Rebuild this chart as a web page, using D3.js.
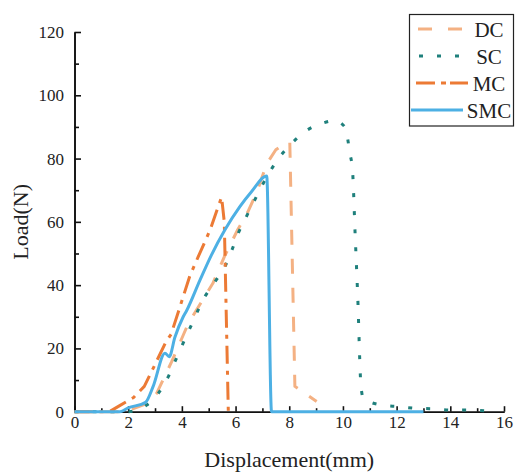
<!DOCTYPE html>
<html>
<head>
<meta charset="utf-8">
<script src="https://cdn.jsdelivr.net/npm/d3@7"></script>
<style>
  body { margin: 0; background: #fff; }
  svg { display: block; font-family: "Liberation Serif", "Times New Roman", serif; }
  .axis path, .axis line { stroke: #111; stroke-width: 1.6; }
  .axis text { fill: #222; font-size: 17px; font-family: "Liberation Serif", "Times New Roman", serif; }
</style>
</head>
<body>
<div id="chart"></div>
<script>
// series (displacement mm / load N)
const seriesNames = ["DC", "SC", "MC", "SMC"]

const dcX = [0, 1.9, 2.69, 3.06, 3.62, 4.24, 4.75, 5.15, 5.6, 6.08, 6.45, 6.8, 7.16, 7.5, 7.85, 8.02, 8.21, 9.02]
const dcY = [0, 0, 2.6, 5.8, 15.8, 27.9, 35, 40.5, 49.3, 57.5, 63, 69.5, 78.3, 82.8, 84.8, 85.3, 8, 3.2]

const scX = [0, 2.0, 2.69, 3.12, 3.49, 3.74, 4.3, 4.86, 5.23, 5.6, 5.85, 6.1, 6.37, 6.66, 7.28, 7.65, 8.09, 8.58,
  9.21, 9.7, 10.07, 10.26, 10.36, 10.45, 10.55, 10.67, 10.76, 11.44, 12.06, 12.68, 13.35, 14.05, 14.65, 15.41]
const scY = [0, 0, 2.1, 5.8, 11, 15.8, 26.4, 36.4, 41, 45.8, 50.8, 56.4, 61.1, 66, 75.9, 80.6, 84.8, 88.5,
  91.1, 92, 90, 81.7, 75.9, 57, 36.6, 8.4, 4.2, 2.1, 1.6, 1.1, 0.9, 0.5, 0.5, 0.2]

const mcX = [0, 1.3, 1.7, 2.2, 2.6, 2.93, 3.4, 3.6, 3.87, 4.3, 4.61, 5.05, 5.3, 5.48, 5.58, 5.73]
const mcY = [0, 0, 2, 4.5, 8, 13.7, 22, 24.5, 31.6, 43, 49, 57.4, 63.5, 67.8, 60, 0]

const smcX = [0, 1.7, 2.0, 2.65, 2.93, 3.37, 3.53, 3.74, 4.05, 4.18, 4.67, 5.1, 5.6, 6.16, 6.6, 7.16, 7.34, 13.0]
const smcY = [0, 0, 1.2, 3, 8, 18.5, 17.4, 23.5, 30, 32, 41.5, 49.5, 57.4, 64.8, 69.6, 74.5, 0, 0]

const xTicks = [0, 2, 4, 6, 8, 10, 12, 14, 16]
const yTicks = [0, 20, 40, 60, 80, 100, 120]

// line styles per series
const styles = {
  DC: {color: "#F4B183", dash: "15,14", legendDash: "14,16", lx1: 418, lx2: 463, smooth: false},
  SC: {color: "#1F807C", dash: "4,14", legendDash: "4,14", lx1: 419, lx2: 461, smooth: true},
  MC: {color: "#EC7A35", dash: "18,7,4,7", legendDash: "19,6,5,4", lx1: 416, lx2: 468, smooth: false},
  SMC: {color: "#4DB0E4", dash: null, legendDash: null, lx1: 411, lx2: 463, smooth: true},
}

var dims = {
  width: 515,
  height: 475,
  margins: {top: 32, right: 11, bottom: 63.3, left: 74.5},
  legend: {x: 409.5, y: 14.5, width: 104, height: 111.5, textX: 489, firstBaseline: 37, step: 27},
}
dims.bodyWidth = dims.width - dims.margins.left - dims.margins.right
dims.bodyHeight = dims.height - dims.margins.top - dims.margins.bottom

var series = [
  {name: "DC", xs: dcX, ys: dcY},
  {name: "SC", xs: scX, ys: scY},
  {name: "MC", xs: mcX, ys: mcY},
  {name: "SMC", xs: smcX, ys: smcY},
].map(s => ({...s, points: s.xs.map((x, i) => [x, s.ys[i]])}))

var xScale = d3.scaleLinear().domain([0, 16]).range([0, dims.bodyWidth])
var yScale = d3.scaleLinear().domain([0, 120]).range([dims.bodyHeight, 0])

var svg = d3.select("#chart").append("svg")
  .attr("width", dims.width)
  .attr("height", dims.height)

svg.append("rect")
  .attr("width", dims.width)
  .attr("height", dims.height)
  .attr("fill", "#fff")

var gBody = svg.append("g")
  .attr("transform", `translate(${dims.margins.left},${dims.margins.top})`)

// minor ticks (inward)
gBody.append("g")
  .attr("class", "axis")
  .attr("transform", `translate(0,${dims.bodyHeight})`)
  .call(d3.axisBottom(xScale).tickValues(d3.range(1, 16, 2)).tickSize(-3.5).tickSizeOuter(0).tickFormat(""))
gBody.append("g")
  .attr("class", "axis")
  .call(d3.axisLeft(yScale).tickValues(d3.range(10, 120, 20)).tickSize(-4.5).tickSizeOuter(0).tickFormat(""))

// major axes
gBody.append("g")
  .attr("class", "axis")
  .attr("transform", `translate(0,${dims.bodyHeight})`)
  .call(d3.axisBottom(xScale).tickValues(xTicks).tickSize(-5.5).tickSizeOuter(0).tickPadding(4))
gBody.append("g")
  .attr("class", "axis")
  .call(d3.axisLeft(yScale).tickValues(yTicks).tickSize(-6.5).tickSizeOuter(0).tickPadding(10.5))

// curves
var line = d3.line()
  .x(d => xScale(d[0]))
  .y(d => yScale(d[1]))
var smoothLine = d3.line()
  .x(d => xScale(d[0]))
  .y(d => yScale(d[1]))
  .curve(d3.curveMonotoneX)

gBody.selectAll(".curve")
  .data(series)
  .enter()
  .append("path")
  .attr("class", "curve")
  .attr("d", d => (styles[d.name].smooth ? smoothLine : line)(d.points))
  .attr("fill", "none")
  .attr("stroke", d => styles[d.name].color)
  .attr("stroke-width", 3)
  .attr("stroke-dasharray", d => styles[d.name].dash)
  .attr("stroke-linejoin", "round")

// axis titles
svg.append("text")
  .attr("x", dims.margins.left + xScale(8))
  .attr("y", 467)
  .attr("text-anchor", "middle")
  .attr("font-size", "22px")
  .attr("fill", "#222")
  .text("Displacement(mm)")

svg.append("text")
  .attr("transform", `translate(28,${dims.margins.top + dims.bodyHeight / 2}) rotate(-90)`)
  .attr("text-anchor", "middle")
  .attr("font-size", "22px")
  .attr("fill", "#222")
  .text("Load(N)")

// legend
var lg = dims.legend
svg.append("rect")
  .attr("x", lg.x)
  .attr("y", lg.y)
  .attr("width", lg.width)
  .attr("height", lg.height)
  .attr("fill", "#fff")
  .attr("stroke", "#222")
  .attr("stroke-width", 1.2)

var gItem = svg.selectAll(".legendItem")
  .data(seriesNames)
  .enter()
  .append("g")
  .attr("class", "legendItem")
  .attr("transform", (d, i) => `translate(0,${lg.firstBaseline + i * lg.step})`)

gItem.append("line")
  .attr("x1", d => styles[d].lx1)
  .attr("x2", d => styles[d].lx2)
  .attr("y1", -8)
  .attr("y2", -8)
  .attr("stroke", d => styles[d].color)
  .attr("stroke-width", 3)
  .attr("stroke-dasharray", d => styles[d].legendDash)

gItem.append("text")
  .attr("x", lg.textX)
  .attr("text-anchor", "middle")
  .attr("font-size", "21px")
  .attr("fill", "#222")
  .text(d => d)
</script>
</body>
</html>
